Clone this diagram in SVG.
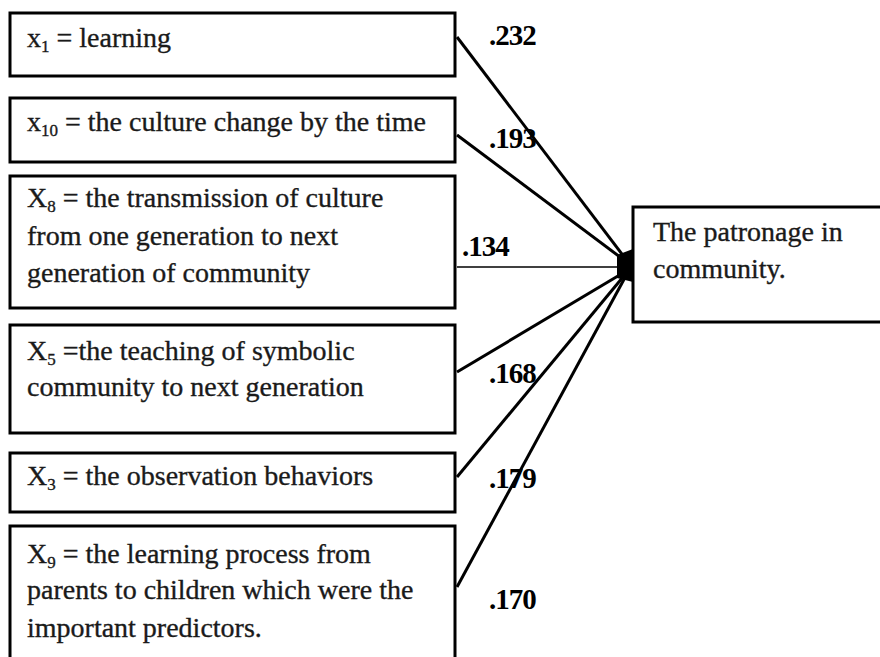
<svg xmlns="http://www.w3.org/2000/svg" width="880" height="657" viewBox="0 0 880 657">
<defs>
<style>
.box{fill:#fff;stroke:#000;stroke-width:3}
.t{font-family:"Liberation Serif","Times New Roman",serif;font-size:28px;fill:#1a1a1a;stroke:#1a1a1a;stroke-width:0.35}
.sub{font-size:17px}
.lbl{font-family:"Liberation Serif","Times New Roman",serif;font-size:29px;font-weight:bold;fill:#000;letter-spacing:-1px}
.ln{stroke:#000;stroke-width:3;fill:none}
.thin{stroke:#000;stroke-width:1.5;fill:none}
</style>
</defs>
<rect width="880" height="657" fill="#fff"/>
<g id="connectors">
<line class="ln" x1="457" y1="37" x2="628" y2="262"/>
<line class="ln" x1="457" y1="135" x2="628" y2="263"/>
<line class="thin" x1="457" y1="267" x2="628" y2="267"/>
<line class="ln" x1="457" y1="372" x2="628" y2="270"/>
<line class="ln" x1="457" y1="477" x2="628" y2="271"/>
<line class="ln" x1="457" y1="587" x2="628" y2="272"/>
<polygon points="617,255 633,249 633,282 617,278" fill="#000"/>
<text class="lbl" x="489" y="45">.232</text>
<text class="lbl" x="489" y="148">.193</text>
<text class="lbl" x="462" y="256">.134</text>
<text class="lbl" x="489" y="383">.168</text>
<text class="lbl" x="489" y="488">.179</text>
<text class="lbl" x="489" y="609">.170</text>
</g>
<g id="n1">
<rect class="box" x="10" y="13" width="445" height="63"/>
<text class="t" x="27" y="47">x<tspan class="sub" dy="5">1</tspan><tspan dy="-5"> = learning</tspan></text>
</g>
<g id="n10">
<rect class="box" x="10" y="98" width="445" height="64"/>
<text class="t" x="27" y="131">x<tspan class="sub" dy="5">10</tspan><tspan dy="-5"> = the culture change by the time</tspan></text>
</g>
<g id="n8">
<rect class="box" x="10" y="176" width="445" height="132"/>
<text class="t" x="27" y="207">X<tspan class="sub" dy="5">8</tspan><tspan dy="-5"> = the transmission of culture</tspan></text>
<text class="t" x="27" y="245">from one generation to next</text>
<text class="t" x="27" y="282">generation of community</text>
</g>
<g id="n5">
<rect class="box" x="10" y="325" width="445" height="108"/>
<text class="t" x="27" y="360">X<tspan class="sub" dy="5">5</tspan><tspan dy="-5"> =the teaching of symbolic</tspan></text>
<text class="t" x="27" y="396">community to next generation</text>
</g>
<g id="n3">
<rect class="box" x="10" y="453" width="445" height="59"/>
<text class="t" x="27" y="485">X<tspan class="sub" dy="5">3</tspan><tspan dy="-5"> = the observation behaviors</tspan></text>
</g>
<g id="n9">
<rect class="box" x="10" y="526" width="445" height="140"/>
<text class="t" x="27" y="563">X<tspan class="sub" dy="5">9</tspan><tspan dy="-5"> = the learning process from</tspan></text>
<text class="t" x="27" y="599">parents to children which were the</text>
<text class="t" x="27" y="637">important predictors.</text>
</g>
<g id="target">
<rect class="box" x="633" y="207" width="260" height="115"/>
<text class="t" x="653" y="241">The patronage in</text>
<text class="t" x="653" y="278">community.</text>
</g>
</svg>
